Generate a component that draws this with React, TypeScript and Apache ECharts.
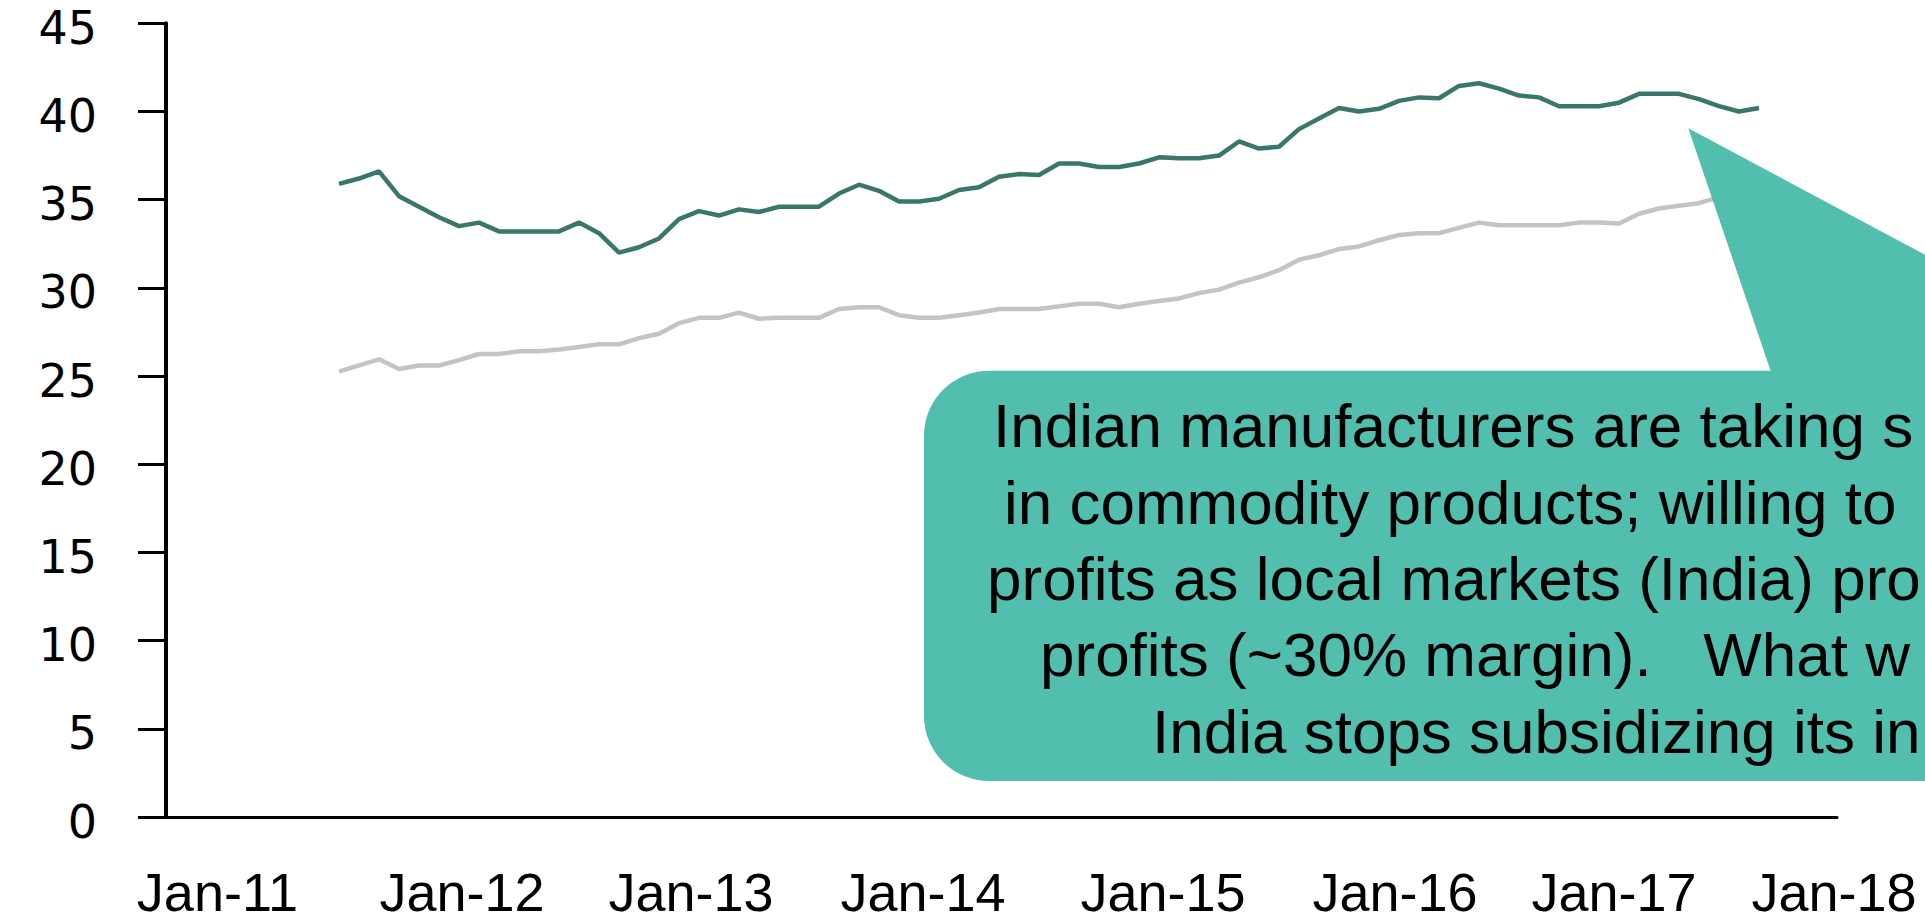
import React, { useEffect, useRef } from "react";
import * as echarts from "echarts";

// Monthly series (first point ~Sep-2011)
const greenSeries = [
  35.9, 36.2, 36.6, 35.2, 34.6, 34.0, 33.5, 33.7, 33.2, 33.2, 33.2, 33.2, 33.7, 33.1, 32.0, 32.3,
  32.8, 33.9, 34.35, 34.1, 34.45, 34.3, 34.6, 34.6, 34.6, 35.35, 35.85, 35.5, 34.9, 34.9, 35.05,
  35.55, 35.7, 36.3, 36.45, 36.4, 37.05, 37.05, 36.85, 36.85, 37.05, 37.4, 37.35, 37.35, 37.5,
  38.3, 37.9, 38.0, 39.0, 39.6, 40.2, 40.0, 40.15, 40.6, 40.8, 40.75, 41.45, 41.6, 41.3, 40.9,
  40.8, 40.3, 40.3, 40.3, 40.5, 41.0, 41.0, 41.0, 40.7, 40.3, 40.0, 40.2,
];
const graySeries = [
  25.25, 25.6, 25.95, 25.4, 25.6, 25.6, 25.9, 26.25, 26.25, 26.4, 26.4, 26.5, 26.65, 26.8, 26.8,
  27.15, 27.4, 28.0, 28.3, 28.3, 28.6, 28.25, 28.3, 28.3, 28.3, 28.8, 28.9, 28.9, 28.45, 28.3,
  28.3, 28.45, 28.6, 28.8, 28.8, 28.8, 28.95, 29.1, 29.1, 28.9, 29.1, 29.25, 29.4, 29.7, 29.9,
  30.3, 30.6, 31.0, 31.6, 31.85, 32.2, 32.35, 32.7, 33.0, 33.1, 33.1, 33.4, 33.7, 33.55, 33.55,
  33.55, 33.55, 33.7, 33.7, 33.65, 34.2, 34.5, 34.65, 34.8, 35.15, 35.5, 35.8,
];
// months counted from Jan-2011 (axis origin)
const firstMonth = 8.65;
const xAxisMax = 83.55;

// x tick labels and where they sit (months from Jan-2011)
const xLabels = ["Jan-11", "Jan-12", "Jan-13", "Jan-14", "Jan-15", "Jan-16", "Jan-17", "Jan-18"];
const xLabelPos = [2.57, 14.8, 26.25, 37.85, 49.85, 61.45, 72.4, 83.4];

const calloutLines = [
  "Indian manufacturers are taking s",
  "in commodity products; willing to",
  "profits as local markets (India) pro",
  "profits (~30% margin).   What w",
  "India stops subsidizing its in",
];

export default function App() {
  const ref = useRef<HTMLDivElement>(null);
  useEffect(() => {
    if (!ref.current) return;
    const chart = echarts.init(ref.current, null, { renderer: "svg" });
    const toPairs = (arr: number[]) => arr.map((v, i) => [firstMonth + i, v]);
    const lineX = [993, 1004, 987, 1040, 1152];
    const lineY = [425.5, 502, 578.3, 654.8, 731.2];
    const option: any = {
      animation: false,
      backgroundColor: "#ffffff",
      grid: { left: 166, right: 88, top: 23.3, bottom: 105, containLabel: false },
      xAxis: {
        type: "value",
        min: 0,
        max: xAxisMax,
        splitLine: { show: false },
        axisTick: { show: false },
        axisLine: { show: true, lineStyle: { color: "#000", width: 3 } },
        axisLabel: {
          customValues: xLabelPos,
          showMinLabel: true,
          showMaxLabel: true,
          margin: 52.5,
          lineHeight: 44,
          color: "#000",
          fontFamily: "Liberation Sans, Arial, sans-serif",
          fontSize: 54,
          formatter: (val: number) => {
            let best = 0;
            for (let i = 0; i < xLabelPos.length; i++) {
              if (Math.abs(xLabelPos[i] - val) < Math.abs(xLabelPos[best] - val)) best = i;
            }
            return xLabels[best];
          },
        },
      },
      yAxis: {
        type: "value",
        min: 0,
        max: 45,
        interval: 5,
        splitLine: { show: false },
        axisLine: { show: true, lineStyle: { color: "#000", width: 4 } },
        axisTick: { show: true, length: 28, inside: false, lineStyle: { color: "#000", width: 3 } },
        axisLabel: {
          margin: 69,
          verticalAlign: "top",
          lineHeight: 9,
          color: "#000",
          fontFamily: "DejaVu Sans, sans-serif",
          fontSize: 46,
        },
      },
      series: [
        {
          type: "line",
          data: toPairs(graySeries),
          symbol: "none",
          lineStyle: { color: "#c4c4c4", width: 4.5 },
          z: 2,
        },
        {
          type: "line",
          data: toPairs(greenSeries),
          symbol: "none",
          lineStyle: { color: "#3a776a", width: 4.5 },
          z: 3,
        },
      ],
      graphic: [
        {
          type: "polygon",
          z: 100,
          shape: {
            points: [
              [1688.3, 128.3],
              [1771, 372],
              [1925, 372],
              [1925, 254.7],
            ],
          },
          style: { fill: "#52bead" },
        },
        {
          type: "rect",
          z: 100,
          shape: { x: 924, y: 370.7, width: 1001, height: 410.3, r: [65, 0, 0, 65] },
          style: { fill: "#52bead" },
        },
        ...calloutLines.map((t, i) => ({
          type: "text",
          z: 101,
          x: lineX[i],
          y: lineY[i],
          style: {
            text: t,
            fill: "#000",
            fontSize: 62,
            fontFamily: "Liberation Sans, Arial, sans-serif",
            align: "left",
            verticalAlign: "middle",
          },
        })),
      ],
    };
    chart.setOption(option);
    return () => chart.dispose();
  }, []);
  return (
    <div
      ref={ref}
      style={{ position: "fixed", left: 0, top: 0, width: 1925, height: 922, background: "#fff" }}
    />
  );
}
